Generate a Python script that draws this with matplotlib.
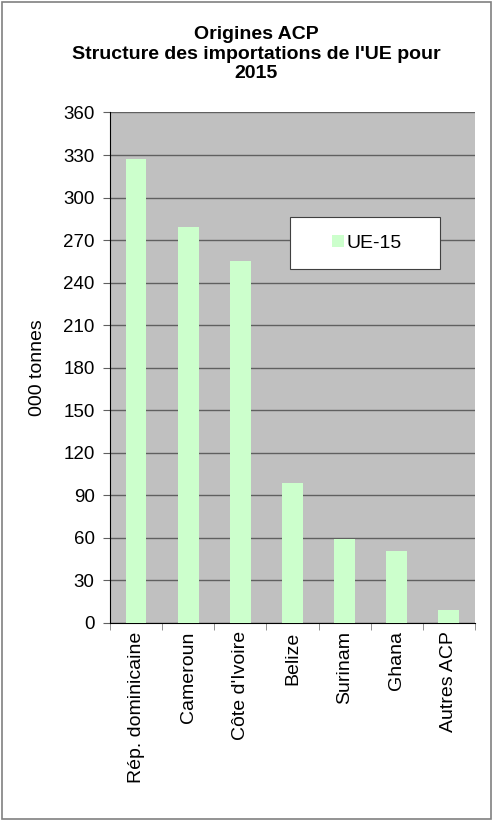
import matplotlib.pyplot as plt
import numpy as np
from matplotlib.patches import Rectangle

plt.rcParams["font.family"] = ["Liberation Sans", "DejaVu Sans"]

countries = ["Rép. dominicaine", "Cameroun", "Côte d'Ivoire", "Belize",
             "Surinam", "Ghana", "Autres ACP"]
ue15 = [327, 279, 255, 99, 59, 51, 9]
yticks = list(range(0, 361, 30))

fig = plt.figure(figsize=(4.93, 8.21), dpi=100)
fig.patches.append(Rectangle((0.004, 0.003), 0.992, 0.994, transform=fig.transFigure,
                             fill=False, edgecolor="#808080", linewidth=1.2))

ax = fig.add_axes([0.223, 0.2412, 0.7405, 0.6218])
ax.set_facecolor("#C0C0C0")

x = np.arange(len(countries))
ax.bar(x, ue15, width=0.4, color="#CCFFCC", label="UE-15", zorder=3)

ax.set_xlim(-0.5, len(countries) - 0.5)
ax.set_ylim(0, 360)
ax.set_yticks(yticks)
ax.yaxis.grid(True, color="#606060", linewidth=1, zorder=1)
ax.set_axisbelow(True)

ax.set_xticks(x)
ax.set_xticklabels(countries, rotation=90, fontsize=14)
ax.tick_params(axis="x", which="major", length=0, pad=6)
ax.set_xticks(np.arange(-0.5, len(countries)), minor=True)
ax.tick_params(axis="x", which="minor", length=5, color="#808080")
ax.tick_params(axis="y", labelsize=13.5, length=5, color="#606060", pad=6)

for side in ["top", "right"]:
    ax.spines[side].set_visible(False)
ax.spines["left"].set_color("black")
ax.spines["bottom"].set_color("black")

ax.set_ylabel("000 tonnes", fontsize=14, labelpad=12)

fig.text(0.52, 0.968, "Origines ACP\nStructure des importations de l'UE pour\n2015",
         ha="center", va="top", fontsize=14, fontweight="bold", linespacing=1.2)

# legend box drawn like the Excel one: wide white frame
ax.add_patch(Rectangle((0.493, 0.693), 0.411, 0.1015, transform=ax.transAxes,
                       facecolor="white", edgecolor="#404040", linewidth=0.8, zorder=4))
leg = ax.legend(loc="center", bbox_to_anchor=(0.705, 0.744), fontsize=14,
                frameon=False, handlelength=0.6, handleheight=0.65,
                handletextpad=0.15, borderaxespad=0)
leg.set_zorder(5)

fig.savefig("out.png", dpi=100)
